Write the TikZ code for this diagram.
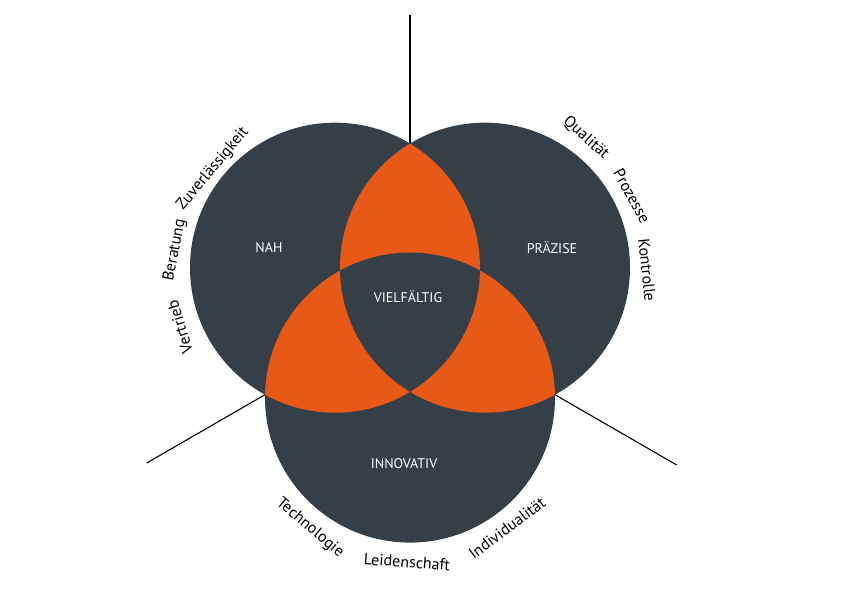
\documentclass[tikz,border=0pt]{standalone}
\usepackage{fontspec}
\setmainfont{PT Sans}
\definecolor{slate}{HTML}{343F48}
\definecolor{ember}{HTML}{E85817}
\tikzset{
  ring/.style={fill=slate},
  lens/.style={fill=ember},
  ray/.style={draw=black, line width=1.1pt},
  tag/.style={text=white, inner sep=0pt, font=\fontsize{14}{16}\selectfont},
  word/.style={text=black, inner sep=0pt, font=\fontsize{16}{18}\selectfont},
}
\begin{document}
\begin{tikzpicture}[x=1pt,y=1pt]
\useasboundingbox (0,0) rectangle (842,596);
\pgfmathsetmacro\r{145}
\coordinate (O) at (410,285);
\path (O) ++(150:86.6) coordinate (cl);
\path (O) ++(30:86.6) coordinate (cr);
\path (O) ++(270:86.6) coordinate (cb);
% rays between the rings
\foreach \a/\l/\n in {90/296/top,210/304/left,330/308/right} {
  \path (O) ++(\a:167.4) coordinate (\n-in);
  \path (O) ++(\a:\l) coordinate (\n-out);
  \draw[ray] (\n-in) -- (\n-out);
}
% rings
\foreach \c in {cl,cr,cb} \fill[ring] (\c) circle (\r);
\begin{scope}
\clip (cl) circle (\r);
\fill[lens] (cr) circle (\r);
\fill[lens] (cb) circle (\r);
\end{scope}
\begin{scope}
\clip (cr) circle (\r);
\fill[lens] (cb) circle (\r);
\end{scope}
\begin{scope}
\clip (cl) circle (\r);
\clip (cr) circle (\r);
\fill[ring] (cb) circle (\r);
\end{scope}
% labels
\node[tag] (nah) at (269,348) {NAH};
\node[tag] (praezise) at (552,348) {PRÄZISE};
\node[tag] (vielf) at (408,299) {VIELFÄLTIG};
\node[tag] (innov) at (404,132) {INNOVATIV};
% words round the rings
\node[word, rotate=50] (zuver) at (213,427) {Zuverlässigkeit};
\node[word, rotate=79] (berat) at (175,346) {Beratung};
\node[word, rotate=107] (vertr) at (180,269) {Vertrieb};
\node[word, rotate=-42] (quali) at (586,458) {Qualität};
\node[word, rotate=-61] (proz) at (632,400) {Prozesse};
\node[word, rotate=-84] (kontr) at (647,326) {Kontrolle};
\node[word, rotate=-40] (techn) at (310,68) {Technologie};
\node[word, rotate=-4] (leid) at (407,34) {Leidenschaft};
\node[word, rotate=37] (indiv) at (507,68) {Individualität};
\end{tikzpicture}
\end{document}
